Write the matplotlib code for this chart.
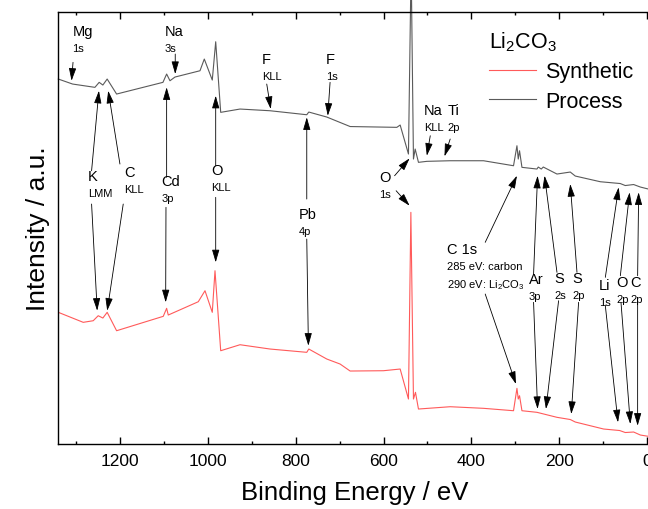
import matplotlib
matplotlib.use("Agg")
import matplotlib.pyplot as plt

plt.rcParams['font.family'] = ['Liberation Sans', 'DejaVu Sans']
plt.rcParams['mathtext.fontset'] = 'custom'
plt.rcParams['mathtext.rm'] = 'Liberation Sans'
plt.rcParams['mathtext.it'] = 'Liberation Sans:italic'

# survey spectra: binding energy (eV) and intensity (a.u.)
process_be = [1341, 1308.5, 1257.6, 1247.9, 1239.5, 1229.7, 1208.2, 1102.6, 1094.2, 1086.6,
              1075.2, 1018.2, 1008.4, 990.2, 982.4, 971, 927, 858.6, 774.9, 770.3,
              729.3, 676.1, 569.7, 562.1, 543.2, 537.1, 531.8, 527.9, 520.4, 501.2,
              448.1, 372.2, 303.8, 296, 293, 290.1, 284.6, 250.4, 247.4, 240.6,
              236, 204.8, 174.5, 163.1, 106, 60.6, 49.2, 30.1, 14.8, -3.4]
process_int = [364.7, 359.7, 356.4, 361.4, 358.7, 364.7, 349.7, 361.4, 369.7, 363,
               366.7, 373, 384.7, 363.7, 402, 331.4, 334.7, 333, 329, 331.7,
               326.7, 317.2, 316.4, 318.7, 289.7, 480, 284.7, 294.7, 281.4, 282.4,
               283, 283, 278, 298, 284.7, 293, 276.4, 274.7, 276.7, 274.7,
               276.7, 269.7, 271.7, 267.7, 262, 260.2, 258.2, 259.2, 256.7, 254.7]

synth_be = [1341, 1284.3, 1261.5, 1250.1, 1239.5, 1229.7, 1208.2, 1101.9, 1094.2, 1090.5,
            1022.1, 1006.8, 990.2, 984, 971, 927, 858.6, 774.9, 770.3, 729.3,
            699, 676.1, 600.2, 562.1, 543.2, 537.7, 531.8, 527.2, 520.4, 448.1,
            372.2, 303.8, 296, 293, 290.1, 284.6, 250.4, 204.8, 174.5, 163.1,
            98.5, 62, 49.2, 30.1, 14.8, -3.4]
synth_int = [131.4, 121.4, 123, 128, 125.7, 131.4, 113, 127.4, 135.4, 128.7,
             142, 153, 131.4, 173, 93, 99, 94.7, 91.4, 94.7, 84.7,
             79.7, 72.7, 73, 74.7, 44.7, 231.4, 44.7, 51.4, 34.7, 37,
             35.4, 33, 55.4, 44.7, 48, 33, 31.4, 26.4, 24.2, 21.7,
             14.7, 13.2, 11.2, 11.7, 8.7, 7.4]

# labels: (big text, small text, text x, text y)
labels = [
    ("Mg", "1s", 1308.5, 413),
    ("Na", "3s", 1098, 413),
    ("F", "KLL", 877.5, 384.7),
    ("F", "1s", 730.9, 384.7),
    ("Na", "KLL", 507.4, 333.7),
    ("Ti", "2p", 453.4, 333.7),
    ("O", "1s", 610, 266.4),
    ("K", "LMM", 1273, 268),
    ("C", "KLL", 1191.5, 271.4),
    ("Cd", "3p", 1105.6, 263),
    ("O", "KLL", 993.1, 274),
    ("Pb", "4p", 794, 229.7),
    ("Ar", "3p", 269.5, 164.7),
    ("S", "2s", 211.5, 165.4),
    ("S", "2p", 169.5, 165.4),
    ("Li", "1s", 109.9, 158.7),
    ("O", "2p", 70.2, 161.4),
    ("C", "2p", 37.6, 161.4),
]

# arrows: (start x, start y, tip x, tip y)
arrows = [
    (1307.5, 381.4, 1310.8, 363), (1074.6, 389.7, 1074.6, 369.7),
    (866.1, 359.7, 857, 334.7), (721.8, 361.4, 727, 328),
    (493.5, 308, 501.3, 288), (448.1, 304.7, 461.1, 287.4),
    (574.8, 268, 540.6, 285.4), (571.3, 253, 540.6, 238),
    (1265.2, 273, 1248.5, 353), (1265.2, 239.7, 1252.4, 133),
    (1200.6, 279.7, 1227.3, 353), (1193.1, 239.7, 1229.6, 133),
    (1094.2, 266.4, 1094.2, 356.4), (1095.7, 236.4, 1096.4, 141.4),
    (982.4, 278, 982.4, 348), (982.4, 246.4, 982.4, 181.4),
    (774.9, 244.7, 774.9, 326.4), (774.9, 204.7, 771.2, 98),
    (368.3, 201.4, 296, 268), (368.3, 149.7, 298.3, 59.7),
    (258.1, 169.7, 249, 268), (258.1, 141.4, 249, 34.7),
    (204.8, 171.4, 233.1, 268), (201.1, 143, 229.9, 34.7),
    (159.2, 171.4, 174.5, 259.7), (155.5, 141.4, 172.2, 29.7),
    (94.6, 166.4, 64.3, 256.4), (94.6, 138, 65.7, 21.4),
    (60.4, 168, 39.2, 251.4), (58.8, 140.7, 37.6, 19.7),
    (21, 168, 18.7, 251.4), (21, 140.7, 21, 18),
]

fig = plt.figure(figsize=(6.48, 5.1), dpi=100)
ax = fig.add_axes([0.09, 0.128, 0.915, 0.847])

red = '#ff5a5a'
gray = '#5a5a5a'
ax.plot(synth_be, synth_int, color=red, lw=0.8, label='Synthetic')
l2, = ax.plot(process_be, process_int, color=gray, lw=0.8, label='Process')
l2.set_clip_on(False)

for big, small, x, y in labels:
    ax.text(x, y, big, fontsize=10.5, ha='left', va='center')
    ax.text(x, y - 17, small, fontsize=8, ha='left', va='center')

ax.text(455.6, 194.7, "C 1s", fontsize=10.5, ha='left', va='center')
ax.text(455.6, 177.4, "285 eV: carbon", fontsize=8, ha='left', va='center')
ax.text(455.6, 159.7, "290 eV: Li$_2$CO$_3$", fontsize=8, ha='left', va='center')

for x0, y0, x1, y1 in arrows:
    ax.annotate('', xy=(x1, y1), xytext=(x0, y0),
                arrowprops=dict(arrowstyle='-|>,head_length=0.55,head_width=0.16',
                                color='black', lw=0.6, shrinkA=0, shrinkB=0,
                                mutation_scale=14))

ax.set_xlim(1341, -10)
ax.set_ylim(0, 432)
ax.set_xticks([1200, 1000, 800, 600, 400, 200, 0])
ax.set_xticks(range(1300, -1, -100), minor=True)
ax.set_yticks([])
ax.tick_params(axis='x', which='both', direction='in', top=True, width=1, labelsize=12.5, pad=7)
ax.tick_params(axis='x', which='major', length=5)
ax.tick_params(axis='x', which='minor', length=2.5)
for s in ax.spines.values():
    s.set_linewidth(1)
ax.spines['right'].set_visible(False)

ax.set_xlabel("Binding Energy / eV", fontsize=18.5, labelpad=8)
ax.set_ylabel("Intensity / a.u.", fontsize=19, labelpad=6)

leg = ax.legend(loc='upper left', bbox_to_anchor=(0.708, 0.985), frameon=False,
                fontsize=15.5, title="Li$_2$CO$_3$", title_fontsize=15.5,
                alignment='left', handlelength=2.2, handletextpad=0.4,
                labelspacing=0.4, borderpad=0)

fig.savefig("out.png", dpi=100)
